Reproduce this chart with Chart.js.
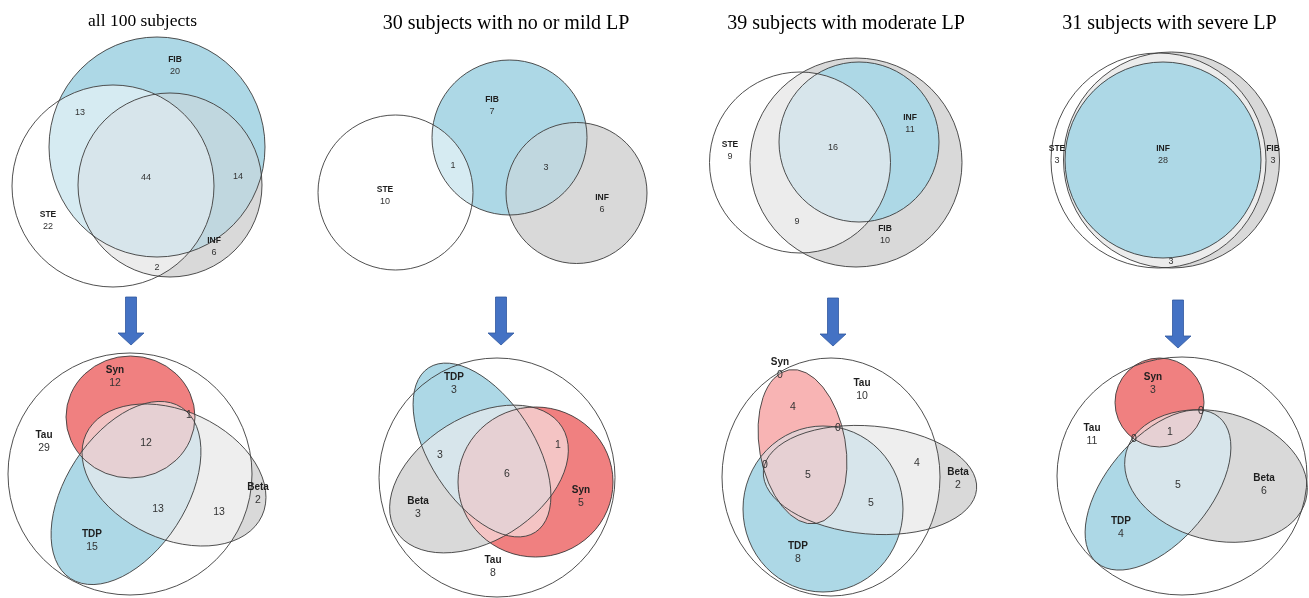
<!DOCTYPE html>
<html>
<head>
<meta charset="utf-8">
<script src="https://cdn.jsdelivr.net/npm/chart.js@4.4.1/dist/chart.umd.min.js"></script>
<style>
  html, body { margin: 0; padding: 0; background: #fff; }
  #wrap { width: 1309px; height: 598px; }
</style>
</head>
<body>
<div id="wrap"><canvas id="venn" width="1309" height="598"></canvas></div>
<script>
// panel titles
const titles = ["all 100 subjects", "30 subjects with no or mild LP", "39 subjects with moderate LP", "31 subjects with severe LP"];

// set names
const topSets = ["STE", "FIB", "INF"];
const bottomSets = ["Tau", "Syn", "TDP", "Beta"];

// upper row, region labels and counts ("" = intersection, count only)
const top1Names = ["FIB", "", "", "", "STE", "INF", ""];
const top1Counts = [20, 13, 44, 14, 22, 6, 2];
const top2Names = ["FIB", "", "", "STE", "INF"];
const top2Counts = [7, 1, 3, 10, 6];
const top3Names = ["INF", "STE", "", "", "FIB"];
const top3Counts = [11, 9, 16, 9, 10];
const top4Names = ["STE", "INF", "FIB", ""];
const top4Counts = [3, 28, 3, 3];

// lower row
const bot1Names = ["Syn", "", "Tau", "", "Beta", "", "", "TDP"];
const bot1Counts = [12, 1, 29, 12, 2, 13, 13, 15];
const bot2Names = ["TDP", "", "", "", "Beta", "Syn", "Tau"];
const bot2Counts = [3, 3, 6, 1, 3, 5, 8];
const bot3Names = ["Syn", "Tau", "", "", "", "", "", "Beta", "", "TDP"];
const bot3Counts = [0, 10, 4, 0, 0, 5, 4, 2, 5, 8];
const bot4Names = ["Syn", "", "Tau", "", "", "", "Beta", "TDP"];
const bot4Counts = [3, 0, 11, 0, 1, 5, 6, 4];

// ---- layout (shapes, colours, label anchors) ----
const BLUE = "#add8e6", GREY = "#d9d9d9", LGREY = "#ececec", RED = "#f08080";

const layouts = [
  {
    row: "top",
    shapes: {
      FIB: { cx: 157, cy: 147, rx: 108, ry: 110, rot: 0 },
      STE: { cx: 113, cy: 186, rx: 101, ry: 101, rot: 0 },
      INF: { cx: 170, cy: 185, rx: 92, ry: 92, rot: 0 },
    },
    colors: { FIB: BLUE, STE: "#ffffff", INF: GREY, "STE+FIB": "#d6ebf2", "FIB+INF": "#c0d7df", "STE+INF": LGREY, "STE+FIB+INF": "#d7e5eb" },
    pos: [[175, 66], [80, 113], [146, 178], [238, 177], [48, 221], [214, 247], [157, 268]],
  },
  {
    row: "top",
    shapes: {
      STE: { cx: 395.5, cy: 192.5, rx: 77.5, ry: 77.5, rot: 0 },
      FIB: { cx: 509.5, cy: 137.5, rx: 77.5, ry: 77.5, rot: 0 },
      INF: { cx: 576.5, cy: 193, rx: 70.5, ry: 70.5, rot: 0 },
    },
    colors: { FIB: BLUE, STE: "#ffffff", INF: GREY, "STE+FIB": "#d6ebf2", "FIB+INF": "#c0d7df", "STE+INF": LGREY },
    pos: [[492, 106], [453, 166], [546, 168], [385, 196], [602, 204]],
  },
  {
    row: "top",
    shapes: {
      STE: { cx: 800, cy: 162.5, rx: 90.5, ry: 90.5, rot: 0 },
      FIB: { cx: 856, cy: 162.5, rx: 106, ry: 104.5, rot: 0 },
      INF: { cx: 859, cy: 142, rx: 80, ry: 80, rot: 0 },
    },
    colors: { STE: "#ffffff", FIB: GREY, INF: BLUE, "FIB+INF": BLUE, "STE+FIB": LGREY, "STE+INF": "#d7e5eb", "STE+FIB+INF": "#d7e5eb" },
    pos: [[910, 124], [730, 151], [833, 148], [797, 222], [885, 235]],
  },
  {
    row: "top",
    shapes: {
      STE: { cx: 1158.5, cy: 160.5, rx: 107.5, ry: 107.5, rot: 0 },
      FIB: { cx: 1171.5, cy: 160, rx: 108, ry: 108, rot: 0 },
      INF: { cx: 1163, cy: 160, rx: 98, ry: 98, rot: 0 },
    },
    colors: { STE: "#ffffff", FIB: GREY, INF: BLUE, "STE+FIB": LGREY, "STE+INF": BLUE, "FIB+INF": BLUE, "STE+FIB+INF": BLUE },
    pos: [[1057, 155], [1163, 155], [1273, 155], [1171, 262]],
  },
  {
    row: "bottom",
    shapes: {
      Tau: { cx: 130, cy: 474, rx: 122, ry: 121, rot: 0 },
      Syn: { cx: 130.5, cy: 417, rx: 64.5, ry: 61, rot: 0 },
      TDP: { cx: 126, cy: 493, rx: 102, ry: 60, rot: -57 },
      Beta: { cx: 174, cy: 475, rx: 97, ry: 64, rot: 25 },
    },
    colors: { Beta: GREY, Syn: RED, TDP: BLUE, Tau: "#ffffff", "Tau+Beta": "#eeeeee", "Tau+Syn": RED, "Tau+TDP": BLUE,
      "Tau+Syn+Beta": "#f2c4c4", "Tau+Syn+TDP": "#f2c4c4", "Tau+TDP+Beta": "#d7e5eb", "Tau+Syn+TDP+Beta": "#e6d0d3" },
    pos: [[115, 377], [189, 415], [44, 442], [146, 443], [258, 494], [158, 509], [219, 512], [92, 541]],
  },
  {
    row: "bottom",
    shapes: {
      Tau: { cx: 497, cy: 477.5, rx: 118, ry: 119.5, rot: 0 },
      TDP: { cx: 482, cy: 450, rx: 98, ry: 52, rot: 57 },
      Beta: { cx: 479, cy: 479, rx: 98, ry: 62, rot: -32 },
      Syn: { cx: 535.5, cy: 482, rx: 77.5, ry: 75, rot: 0 },
    },
    colors: { Tau: "#ffffff", TDP: BLUE, Beta: GREY, Syn: RED, "Tau+TDP": BLUE, "Tau+Beta": GREY, "Tau+Syn": RED,
      "Tau+TDP+Beta": "#d7e5eb", "Tau+Syn+Beta": "#f4c4c4", "Tau+Syn+TDP": "#f4c4c4", "Tau+Syn+TDP+Beta": "#e6d0d3" },
    pos: [[454, 384], [440, 455], [507, 474], [558, 445], [418, 508], [581, 497], [493, 567]],
  },
  {
    row: "bottom",
    shapes: {
      Tau: { cx: 831, cy: 477, rx: 109, ry: 119, rot: 0 },
      Syn: { cx: 802.5, cy: 446.7, rx: 78, ry: 43, rot: 80 },
      Beta: { cx: 870, cy: 480, rx: 107, ry: 54, rot: 5 },
      TDP: { cx: 823, cy: 509, rx: 80, ry: 83, rot: 0 },
    },
    colors: { Beta: GREY, TDP: BLUE, Syn: "#f8b4b4", Tau: "#ffffff", "Tau+Beta": "#eeeeee", "Tau+Syn": "#f8b4b4", "Tau+TDP": BLUE,
      "Tau+TDP+Beta": "#d7e5eb", "Tau+Syn+Beta": "#e6d0d3", "Tau+Syn+TDP": "#e6d0d3", "Tau+Syn+TDP+Beta": "#e6d0d3" },
    pos: [[780, 369], [862, 390], [793, 407], [838, 428], [765, 465], [808, 475], [917, 463], [958, 479], [871, 503], [798, 553]],
  },
  {
    row: "bottom",
    shapes: {
      Tau: { cx: 1182, cy: 476, rx: 125, ry: 119, rot: 0 },
      Syn: { cx: 1159.5, cy: 402.5, rx: 44.5, ry: 44.5, rot: 0 },
      TDP: { cx: 1158, cy: 490, rx: 95, ry: 52, rot: -50 },
      Beta: { cx: 1216, cy: 476, rx: 93, ry: 64, rot: 15 },
    },
    colors: { Beta: GREY, TDP: BLUE, Syn: RED, Tau: "#ffffff", "Tau+Beta": GREY, "Tau+Syn": RED, "Tau+TDP": BLUE,
      "Tau+TDP+Beta": "#d7e5eb", "Tau+Syn+Beta": "#f2c4c4", "Tau+Syn+TDP": "#f2c4c4", "Tau+Syn+TDP+Beta": "#e6d0d3" },
    pos: [[1153, 384], [1201, 411], [1092, 435], [1134, 439], [1170, 432], [1178, 485], [1264, 485], [1121, 528]],
  },
];

const labelNames = [top1Names, top2Names, top3Names, top4Names, bot1Names, bot2Names, bot3Names, bot4Names];
const labelCounts = [top1Counts, top2Counts, top3Counts, top4Counts, bot1Counts, bot2Counts, bot3Counts, bot4Counts];

const titlePos = [[142.5, 26, 17.5], [506, 29, 20], [846, 29, 20], [1169.5, 29, 20]];
const arrowPos = [[131, 297], [501, 297], [833, 298], [1178, 300]];

function ellipsePath(ctx, s, xs, ys) {
  const cx = xs.getPixelForValue(s.cx);
  const cy = ys.getPixelForValue(s.cy);
  const rx = Math.abs(xs.getPixelForValue(s.cx + s.rx) - cx);
  const ry = Math.abs(ys.getPixelForValue(s.cy + s.ry) - cy);
  ctx.beginPath();
  ctx.ellipse(cx, cy, rx, ry, (s.rot * Math.PI) / 180, 0, Math.PI * 2);
}

// fill every region with its own colour, then draw the outlines
const vennPlugin = {
  id: "venn",
  beforeDatasetsDraw(chart) {
    const { ctx, chartArea: area } = chart;
    const xs = chart.scales.x, ys = chart.scales.y;

    layouts.forEach((d) => {
      const keys = Object.keys(d.colors).sort((a, b) => a.split("+").length - b.split("+").length);
      keys.forEach((k) => {
        ctx.save();
        k.split("+").forEach((n) => {
          ellipsePath(ctx, d.shapes[n], xs, ys);
          ctx.clip();
        });
        ctx.fillStyle = d.colors[k];
        ctx.fillRect(area.left, area.top, area.width, area.height);
        ctx.restore();
      });
      ctx.save();
      ctx.strokeStyle = "#3c3c3c";
      ctx.lineWidth = 0.9;
      Object.values(d.shapes).forEach((s) => {
        ellipsePath(ctx, s, xs, ys);
        ctx.stroke();
      });
      ctx.restore();
    });

    // arrows
    arrowPos.forEach(([ax, ay]) => {
      const px = (v) => xs.getPixelForValue(v);
      const py = (v) => ys.getPixelForValue(v);
      ctx.save();
      ctx.beginPath();
      ctx.moveTo(px(ax - 5.5), py(ay));
      ctx.lineTo(px(ax + 5.5), py(ay));
      ctx.lineTo(px(ax + 5.5), py(ay + 36));
      ctx.lineTo(px(ax + 13), py(ay + 36));
      ctx.lineTo(px(ax), py(ay + 48));
      ctx.lineTo(px(ax - 13), py(ay + 36));
      ctx.lineTo(px(ax - 5.5), py(ay + 36));
      ctx.closePath();
      ctx.fillStyle = "#4472c4";
      ctx.fill();
      ctx.strokeStyle = "#30589f";
      ctx.lineWidth = 0.8;
      ctx.stroke();
      ctx.restore();
    });

    // titles
    ctx.save();
    ctx.fillStyle = "#000";
    ctx.textAlign = "center";
    ctx.textBaseline = "alphabetic";
    titles.forEach((t, i) => {
      const [tx, ty, size] = titlePos[i];
      ctx.font = `${size}px "Liberation Serif", "Times New Roman", serif`;
      ctx.fillText(t, xs.getPixelForValue(tx), ys.getPixelForValue(ty));
    });
    ctx.restore();
  },
  afterDatasetsDraw(chart) {
    const { ctx } = chart;
    chart.data.datasets.forEach((ds, i) => {
      const meta = chart.getDatasetMeta(i);
      const big = ds.row === "bottom";
      const nameFont = big ? 'bold 10px "Liberation Sans", Arial, sans-serif' : 'bold 8.5px "Liberation Sans", Arial, sans-serif';
      const numFont = big ? '10.5px "Liberation Sans", Arial, sans-serif' : '9px "Liberation Sans", Arial, sans-serif';
      const gap = big ? 6.5 : 6;
      ctx.save();
      ctx.textAlign = "center";
      ctx.textBaseline = "middle";
      meta.data.forEach((el, j) => {
        const name = ds.names[j];
        const count = ds.counts[j];
        if (name) {
          ctx.font = nameFont;
          ctx.fillStyle = "#1e1e1e";
          ctx.fillText(name, el.x, el.y - gap);
          ctx.font = numFont;
          ctx.fillStyle = "#333";
          ctx.fillText(String(count), el.x, el.y + gap);
        } else {
          ctx.font = numFont;
          ctx.fillStyle = "#333";
          ctx.fillText(String(count), el.x, el.y);
        }
      });
      ctx.restore();
    });
  },
};

const ctx = document.getElementById("venn").getContext("2d");
new Chart(ctx, {
  type: "scatter",
  data: {
    datasets: layouts.map((d, i) => ({
      label: i < 4 ? titles[i] : titles[i - 4] + " (pathology)",
      data: d.pos.map(([x, y]) => ({ x, y })),
      names: labelNames[i],
      counts: labelCounts[i],
      row: d.row,
      pointRadius: 0,
      pointHoverRadius: 0,
    })),
  },
  options: {
    responsive: false,
    animation: false,
    events: [],
    layout: { padding: 0 },
    plugins: { legend: { display: false }, tooltip: { enabled: false } },
    scales: {
      x: { type: "linear", min: 0, max: 1309, display: false },
      y: { type: "linear", min: 0, max: 598, reverse: true, display: false },
    },
  },
  plugins: [vennPlugin],
});
</script>
</body>
</html>
